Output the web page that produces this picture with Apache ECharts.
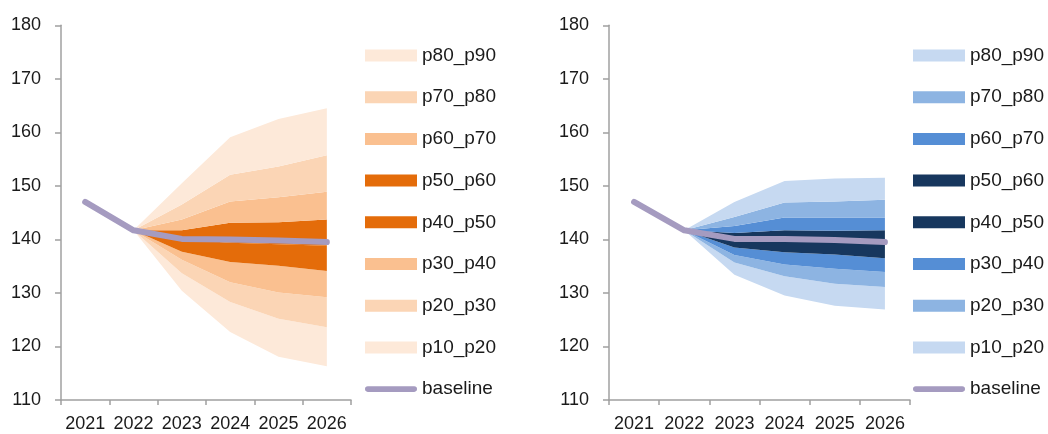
<!DOCTYPE html>
<html>
<head>
<meta charset="utf-8">
<script src="https://cdn.jsdelivr.net/npm/echarts@6/dist/echarts.min.js"></script>
<style>
  html, body { margin: 0; padding: 0; background: #ffffff; }
  #left, #right { position: absolute; top: 0; width: 524px; height: 434px; }
  #left { left: 0; }
  #right { left: 524px; }
</style>
</head>
<body>
<div id="left"></div>
<div id="right"></div>
<script>
// ---------- data ----------
const years = ['2021', '2022', '2023', '2024', '2025', '2026'];
const yTicks = [110, 120, 130, 140, 150, 160, 170, 180];

// left chart (orange fan)
const baselineL = [147.0, 141.7, 140.1, 140.0, 139.8, 139.5];
const p10L = [null, 141.7, 130.4, 122.7, 118.1, 116.3];
const p20L = [null, 141.7, 133.7, 128.3, 125.2, 123.6];
const p30L = [null, 141.7, 136.2, 132.0, 130.1, 129.2];
const p40L = [null, 141.7, 137.7, 135.8, 135.1, 134.1];
const p50L = [null, 141.7, 140.0, 139.4, 139.1, 138.8];
const p60L = [null, 141.7, 141.7, 143.1, 143.2, 143.7];
const p70L = [null, 141.7, 143.7, 147.1, 147.9, 148.9];
const p80L = [null, 141.7, 146.5, 152.1, 153.6, 155.7];
const p90L = [null, 141.7, 150.5, 159.1, 162.5, 164.5];

// right chart (blue fan)
const baselineR = [147.0, 141.7, 140.1, 140.1, 139.9, 139.5];
const p10R = [null, 141.7, 133.4, 129.5, 127.6, 126.9];
const p20R = [null, 141.7, 135.7, 133.1, 131.7, 131.1];
const p30R = [null, 141.7, 137.1, 135.3, 134.5, 133.9];
const p40R = [null, 141.7, 138.5, 137.6, 137.2, 136.5];
const p50R = [null, 141.7, 140.0, 139.8, 139.6, 139.3];
const p60R = [null, 141.7, 141.2, 141.7, 141.6, 141.7];
const p70R = [null, 141.7, 142.5, 144.1, 144.1, 144.1];
const p80R = [null, 141.7, 144.2, 146.9, 147.1, 147.4];
const p90R = [null, 141.7, 147.0, 150.9, 151.4, 151.5];

const bandNames = ['p10_p20', 'p20_p30', 'p30_p40', 'p40_p50', 'p50_p60', 'p60_p70', 'p70_p80', 'p80_p90'];
const legendOrder = ['p80_p90', 'p70_p80', 'p60_p70', 'p50_p60', 'p40_p50', 'p30_p40', 'p20_p30', 'p10_p20', 'baseline'];

const colorsL = ['#FDE9D9', '#FBD5B5', '#FAC090', '#E46C0A', '#E46C0A', '#FAC090', '#FBD5B5', '#FDE9D9'];
const colorsR = ['#C6D9F1', '#8DB4E2', '#558ED5', '#17375E', '#17375E', '#558ED5', '#8DB4E2', '#C6D9F1'];
const baselineColor = '#A59BC0';

// ---------- builder ----------
const FONT = 'Liberation Sans';
const TXT = '#1a1a1a';
const AXIS = '#A0A0A0';
const baselineIcon = 'path://M3,0 L53,0 A3,3 0 0 1 53,6 L3,6 A3,3 0 0 1 3,0 Z';

function buildOption(pct, baseline, colors, gridLeft, gridWidth, legendLeft) {
  const series = [];
  // invisible stack base (p10)
  series.push({
    name: '_base', type: 'line', stack: 'fan', data: pct[0].map(v => v == null ? '-' : v),
    showSymbol: false, symbol: 'none', lineStyle: { width: 0, opacity: 0 }, silent: true, z: 1
  });
  for (let i = 0; i < 8; i++) {
    const lo = pct[i], hi = pct[i + 1];
    const diff = hi.map((v, k) => (v == null || lo[k] == null) ? '-' : +(v - lo[k]).toFixed(3));
    series.push({
      name: bandNames[i], type: 'line', stack: 'fan', data: diff,
      showSymbol: false, symbol: 'none',
      lineStyle: { width: 0, opacity: 0 },
      itemStyle: { color: colors[i] },
      areaStyle: { color: colors[i], opacity: 1 },
      z: 2
    });
  }
  series.push({
    name: 'baseline', type: 'line', data: baseline,
    showSymbol: false, symbol: 'none',
    itemStyle: { color: baselineColor },
    lineStyle: { color: baselineColor, width: 6, cap: 'round', join: 'round' },
    z: 5
  });

  const legendData = legendOrder.map(n => {
    if (n === 'baseline') return { name: n, icon: baselineIcon, itemStyle: { color: baselineColor } };
    const idx = bandNames.indexOf(n);
    return { name: n, icon: 'rect', itemStyle: { color: colors[idx] } };
  });

  return {
    animation: false,
    backgroundColor: '#ffffff',
    textStyle: { fontFamily: FONT },
    grid: { left: gridLeft, top: 25.3, width: gridWidth, height: 374.7, containLabel: false },
    legend: {
      orient: 'vertical', left: legendLeft, top: 46, padding: 0,
      itemWidth: 52, itemHeight: 12, itemGap: 22.7,
      symbolKeepAspect: true,
      itemStyle: { borderWidth: 0 },
      textStyle: { fontFamily: FONT, fontSize: 19, color: TXT },
      data: legendData, selectedMode: false
    },
    xAxis: {
      type: 'category', data: years, boundaryGap: true,
      axisLine: { lineStyle: { color: AXIS, width: 1.5 } },
      axisTick: { show: true, length: 5, lineStyle: { color: AXIS, width: 1.5 }, alignWithLabel: false },
      axisLabel: { fontFamily: FONT, fontSize: 18, color: TXT, margin: 15, interval: 0 },
      splitLine: { show: false }
    },
    yAxis: {
      type: 'value', min: yTicks[0], max: yTicks[yTicks.length - 1], interval: yTicks[1] - yTicks[0],
      axisLine: { show: true, lineStyle: { color: AXIS, width: 1.5 } },
      axisTick: { show: true, length: 6, lineStyle: { color: AXIS, width: 1.5 } },
      axisLabel: { fontFamily: FONT, fontSize: 18, color: TXT, margin: 20 },
      splitLine: { show: false }
    },
    series: series
  };
}

const chartL = echarts.init(document.getElementById('left'), null, { renderer: 'canvas' });
chartL.setOption(buildOption([p10L, p20L, p30L, p40L, p50L, p60L, p70L, p80L, p90L], baselineL, colorsL, 61, 290, 365));

const chartR = echarts.init(document.getElementById('right'), null, { renderer: 'canvas' });
chartR.setOption(buildOption([p10R, p20R, p30R, p40R, p50R, p60R, p70R, p80R, p90R], baselineR, colorsR, 85, 301, 389));
</script>
</body>
</html>
